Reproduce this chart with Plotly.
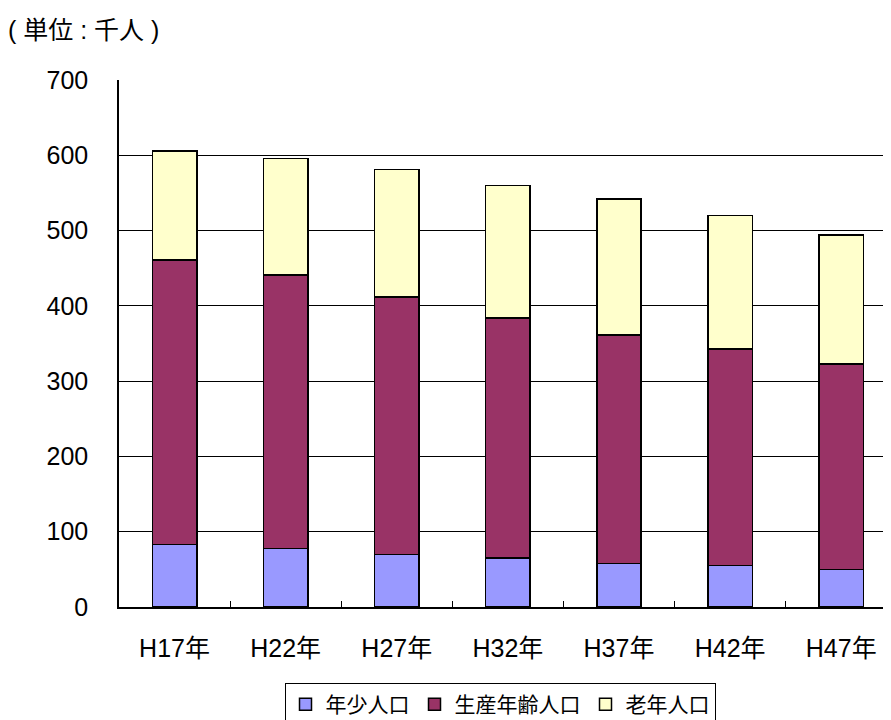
import plotly.graph_objects as go

categories = ["H17年", "H22年", "H27年", "H32年", "H37年", "H42年", "H47年"]
young = [83, 78, 70, 65, 58, 55, 50]
working = [378, 363, 342, 319, 303, 288, 273]
old = [145, 155, 169, 176, 181, 177, 171]
series_names = ["年少人口", "生産年齢人口", "老年人口"]
colors = ["#9999FF", "#993366", "#FFFFCC"]
y_ticks = [0, 100, 200, 300, 400, 500, 600, 700]

FONT = "Liberation Sans, Arial, Noto Sans CJK JP, sans-serif"
CJK = "Noto Sans CJK JP, sans-serif"

fig = go.Figure()
for name, vals, col in zip(series_names, [young, working, old], colors):
    fig.add_trace(go.Bar(
        x=categories, y=vals, name=name,
        marker=dict(color=col, line=dict(color="black", width=1.5)),
    ))

# the page places the figure at an 8px body margin; offsets compensate
fig.update_layout(
    width=891, height=720,
    barmode="stack", bargap=0.6,
    plot_bgcolor="white", paper_bgcolor="white",
    margin=dict(l=111, r=0, t=72, b=121),
    font=dict(family=FONT, size=25, color="black"),
    title=dict(text="( 単位 : 千人 )", xref="container", yref="container",
               x=0, y=1-22/720, xanchor="left", yanchor="middle",
               font=dict(family=FONT, size=25, color="black")),
    showlegend=True,
    legend=dict(orientation="h", xref="container", yref="container",
                x=492/891, xanchor="center", y=1-675/720, yanchor="top",
                bordercolor="black", borderwidth=1, bgcolor="white",
                font=dict(family=CJK, size=21, color="black"),
                traceorder="normal", itemwidth=30),
)
fig.update_xaxes(
    range=[-0.5, 6.52], showline=True, linecolor="black", linewidth=1.5,
    ticks="inside", tickson="boundaries", ticklen=6, tickcolor="black",
    showgrid=False, tickfont=dict(size=25), ticklabelstandoff=18,
)
fig.update_yaxes(
    range=[0, 700], tickvals=y_ticks, showline=True, linecolor="black", linewidth=1.5,
    showgrid=True, gridcolor="black", gridwidth=1, ticks="", ticklabelstandoff=24,
    tickfont=dict(size=25), zeroline=False,
)

fig.write_html("out.html")
